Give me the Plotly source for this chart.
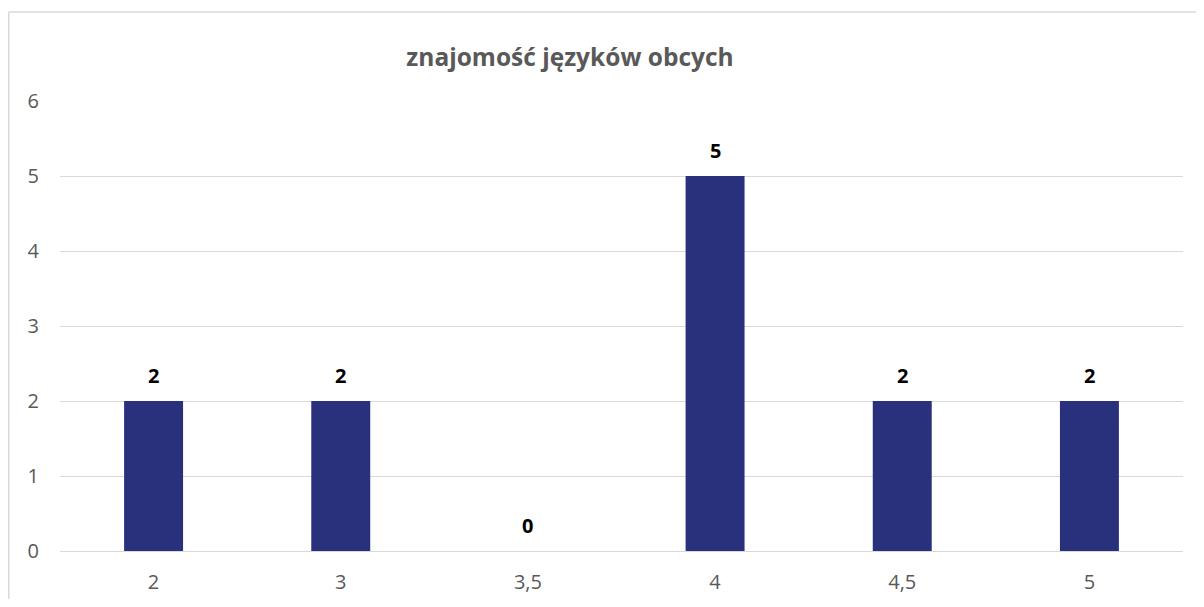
import plotly.graph_objects as go

categories = ["2", "3", "3,5", "4", "4,5", "5"]
values = [2, 2, 0, 5, 2, 2]
y_ticks = [0, 1, 2, 3, 4, 5, 6]

# page has an 8px body margin on every side; keep the figure inside the 1204x607 window
W, H = 1188, 591
ml, mr, mt, mb = 52, 13, 93, 48
pw, ph = W - ml - mr, H - mt - mb

fig = go.Figure(go.Bar(
    x=categories, y=values,
    marker=dict(color="#29307c", line=dict(width=0)),
    hoverinfo="x+y",
))

# value labels above the bars (x given as category index on the category axis)
labels = [
    dict(x=i, y=v, xref="x", yref="y", text=f"<b>{v}</b>", showarrow=False,
         yanchor="middle", yshift=26,
         font=dict(family="Open Sans", size=20, color="#000000"))
    for i, v in enumerate(values)
]

bx = (0.75 - ml) / pw
by = (H - mb - 4) / ph
fig.update_layout(
    width=W, height=H,
    margin=dict(l=ml, r=mr, t=mt, b=mb),
    paper_bgcolor="white", plot_bgcolor="white",
    bargap=0.685,
    showlegend=False,
    title=dict(text="<b>znajomość języków obcych</b>", x=562 / W, xanchor="center",
               xref="container", y=1 - 49 / H, yanchor="middle", yref="container",
               font=dict(family="Open Sans", size=24.5, color="#595959")),
    xaxis=dict(type="category", showgrid=False, showline=False, ticks="",
               automargin=False,
               tickfont=dict(family="Open Sans", size=20, color="#595959"),
               ticklabelstandoff=17),
    yaxis=dict(range=[0, 6], tickvals=y_ticks, showgrid=True, gridcolor="#d9d9d9",
               gridwidth=1, zeroline=True, zerolinecolor="#d9d9d9", zerolinewidth=1,
               showline=False, ticks="", automargin=False,
               tickfont=dict(family="Open Sans", size=20, color="#595959"),
               ticklabelstandoff=20),
    annotations=labels,
    shapes=[
        dict(type="line", xref="paper", yref="paper", x0=bx, x1=bx, y0=-1, y1=by,
             line=dict(color="#d9d9d9", width=1.5)),
        dict(type="line", xref="paper", yref="paper", x0=bx, x1=1.5, y0=by, y1=by,
             line=dict(color="#d9d9d9", width=1.5)),
    ],
)
fig.write_html("out.html")
